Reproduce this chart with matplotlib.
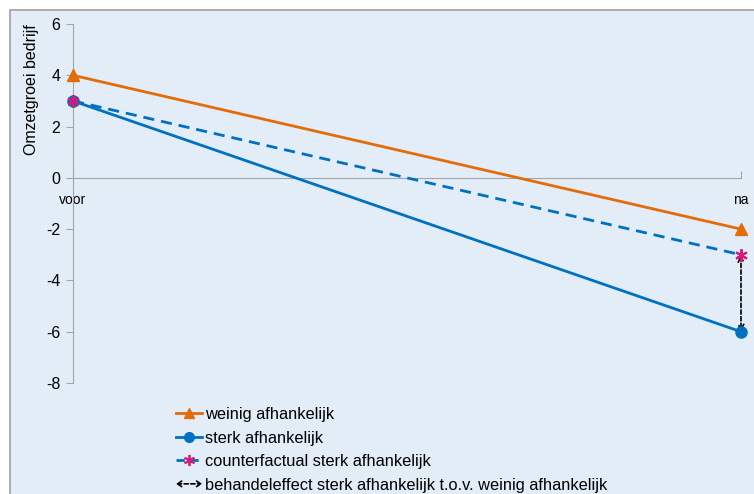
import numpy as np
import matplotlib
matplotlib.use("Agg")
import matplotlib.pyplot as plt
from matplotlib.lines import Line2D
from matplotlib.patches import FancyArrowPatch, Rectangle
from matplotlib.legend_handler import HandlerBase

plt.rcParams['font.family'] = ['Liberation Sans', 'DejaVu Sans']
plt.rcParams['axes.unicode_minus'] = False

categories = ["voor", "na"]
weinig = [4, -2]
sterk = [3, -6]
counterfactual = [3, -3]

labels = ["weinig afhankelijk", "sterk afhankelijk",
          "counterfactual sterk afhankelijk",
          "behandeleffect sterk afhankelijk t.o.v. weinig afhankelijk"]

orange = "#E36C09"
blue = "#0070C0"
magenta = "#D6197A"
bg = "#E3EDF8"
grey = "#A6A6A6"
fs = 11.5
leg_fs = 11.8


class ArrowHandler(HandlerBase):
    def create_artists(self, legend, orig_handle, xdescent, ydescent,
                       width, height, fontsize, trans):
        a = FancyArrowPatch((0, height / 2), (width, height / 2),
                            arrowstyle="<->,head_length=3,head_width=2",
                            linestyle=(0, (2.5, 1.5)), color="black", lw=1.2,
                            shrinkA=0, shrinkB=0, transform=trans)
        return [a]


fig = plt.figure(figsize=(7.54, 4.94), dpi=100)
fig.patches.append(Rectangle((10 / 754, -0.01), 1.0, 1 - 10 / 494 + 0.01,
                             transform=fig.transFigure, facecolor=bg,
                             edgecolor="#A0A0A0", lw=1.2, zorder=-10))

ax = fig.add_axes([73 / 754, 1 - 383 / 494, (741 - 73) / 754, (383 - 24) / 494])
ax.set_facecolor("none")

x = np.arange(len(categories))

ax.plot(x, weinig, color=orange, lw=2, marker="^", ms=8, zorder=3, clip_on=False)
ax.plot(x, sterk, color=blue, lw=2, marker="o", ms=8, zorder=3, clip_on=False)
ax.plot(x, counterfactual, color=blue, lw=2, ls=(0, (4, 2.5)),
        marker=(6, 2, 0), ms=9, mec=magenta, mew=1.5, zorder=4, clip_on=False)

ax.annotate("", xy=(x[1], sterk[1]), xytext=(x[1], counterfactual[1]),
            arrowprops=dict(arrowstyle="<->,head_length=0.4,head_width=0.2",
                            linestyle=(0, (2.5, 1.5)), color="black", lw=1.2,
                            shrinkA=0, shrinkB=0), zorder=2)

ax.set_xlim(0, 1)
ax.set_ylim(-8, 6)
ax.set_yticks(np.arange(-8, 7, 2))
ax.set_xticks(x)
ax.set_xticklabels(categories, fontsize=fs)

for s in ["top", "right"]:
    ax.spines[s].set_visible(False)
ax.spines["bottom"].set_position(("data", 0))
ax.spines["bottom"].set_color(grey)
ax.spines["left"].set_color(grey)
ax.tick_params(axis="y", colors=grey, labelcolor="black", labelsize=fs,
               length=5, direction="out", pad=4)
ax.tick_params(axis="x", colors=grey, labelcolor="black", length=5,
               direction="in", pad=11)

ax.set_ylabel("Omzetgroei bedrijf", fontsize=fs)
ax.yaxis.set_label_coords(-0.051, 0.816)

handles = [
    Line2D([], [], color=orange, lw=2, marker="^", ms=7),
    Line2D([], [], color=blue, lw=2, marker="o", ms=7),
    Line2D([], [], color=blue, lw=2, ls=(0, (3, 2)), marker=(6, 2, 0), ms=8,
           mec=magenta, mew=1.3),
    Line2D([], [], color="black"),
]
leg = fig.legend(handles, labels, loc="upper left",
                 bbox_to_anchor=(176 / 754, 1 - 407 / 494),
                 frameon=False, fontsize=leg_fs, handlelength=1.6,
                 handletextpad=0.15, labelspacing=0.52, borderpad=0,
                 borderaxespad=0,
                 handler_map={handles[3]: ArrowHandler()})

fig.savefig("out.png", dpi=100)
